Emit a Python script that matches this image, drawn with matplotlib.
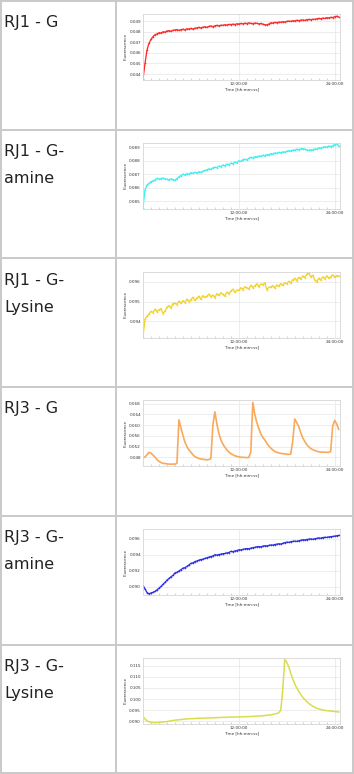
#!/usr/bin/env python3

import numpy as np
import matplotlib
matplotlib.use("Agg")
import matplotlib.pyplot as plt
from matplotlib.lines import Line2D

# sample spacing of the plate reader (hours)
STEP_H = 0.25

labels = [
    ["RJ1 - G"],
    ["RJ1 - G-", "amine"],
    ["RJ1 - G-", "Lysine"],
    ["RJ3 - G"],
    ["RJ3 - G-", "amine"],
    ["RJ3 - G-", "Lysine"],
]

colors = ["#ff2a2a", "#3ef0f0", "#f5d224", "#f9a95b", "#2f2fe6", "#d9dd4a"]
use_markers = [True, True, True, False, True, False]
line_widths = [0.95, 0.95, 0.95, 1.2, 0.95, 1.1]

rj1_g = [
    0.04353, 0.04500, 0.04628, 0.04691, 0.04729, 0.04755, 0.04773, 0.04781, 0.04792, 0.04790,
    0.04801, 0.04798, 0.04808, 0.04812, 0.04806, 0.04815, 0.04818, 0.04822, 0.04814, 0.04821,
    0.04826, 0.04819, 0.04830, 0.04827, 0.04833, 0.04826, 0.04835, 0.04838, 0.04843, 0.04837,
    0.04845, 0.04849, 0.04843, 0.04852, 0.04856, 0.04850, 0.04858, 0.04862, 0.04857, 0.04864,
    0.04862, 0.04868, 0.04865, 0.04871, 0.04869, 0.04874, 0.04870, 0.04877, 0.04875, 0.04880,
    0.04877, 0.04883, 0.04879, 0.04886, 0.04881, 0.04878, 0.04884, 0.04882, 0.04876, 0.04880,
    0.04873, 0.04869, 0.04866, 0.04874, 0.04887, 0.04884, 0.04890, 0.04888, 0.04893, 0.04891,
    0.04897, 0.04894, 0.04900, 0.04903, 0.04899, 0.04906, 0.04904, 0.04910, 0.04907, 0.04912,
    0.04913, 0.04909, 0.04916, 0.04919, 0.04915, 0.04921, 0.04918, 0.04924, 0.04928, 0.04925,
    0.04931, 0.04928, 0.04935, 0.04933, 0.04938, 0.04936, 0.04944, 0.04949, 0.04942,
]

rj1_g_amine = [
    0.08452, 0.08583, 0.08620, 0.08632, 0.08645, 0.08651, 0.08658, 0.08670, 0.08663, 0.08668,
    0.08672, 0.08665, 0.08663, 0.08658, 0.08666, 0.08660, 0.08655, 0.08668, 0.08681, 0.08690,
    0.08700, 0.08694, 0.08705, 0.08699, 0.08712, 0.08706, 0.08715, 0.08709, 0.08718, 0.08714,
    0.08722, 0.08728, 0.08732, 0.08740, 0.08736, 0.08748, 0.08752, 0.08749, 0.08760, 0.08757,
    0.08768, 0.08763, 0.08775, 0.08771, 0.08782, 0.08779, 0.08790, 0.08786, 0.08800, 0.08795,
    0.08808, 0.08812, 0.08806, 0.08818, 0.08825, 0.08821, 0.08830, 0.08828, 0.08835, 0.08832,
    0.08840, 0.08837, 0.08846, 0.08843, 0.08853, 0.08849, 0.08858, 0.08855, 0.08862, 0.08859,
    0.08866, 0.08863, 0.08870, 0.08875, 0.08872, 0.08880, 0.08877, 0.08885, 0.08882, 0.08888,
    0.08890, 0.08886, 0.08880, 0.08876, 0.08882, 0.08879, 0.08888, 0.08885, 0.08895, 0.08892,
    0.08899, 0.08903, 0.08900, 0.08908, 0.08905, 0.08912, 0.08920, 0.08926, 0.08910,
]

rj1_g_lysine = [
    0.09324, 0.09412, 0.09426, 0.09438, 0.09451, 0.09445, 0.09462, 0.09450, 0.09458, 0.09465,
    0.09440, 0.09452, 0.09471, 0.09480, 0.09468, 0.09490, 0.09493, 0.09485, 0.09502, 0.09492,
    0.09505, 0.09495, 0.09512, 0.09500, 0.09510, 0.09522, 0.09506, 0.09518, 0.09527, 0.09512,
    0.09530, 0.09521, 0.09527, 0.09538, 0.09524, 0.09533, 0.09520, 0.09540, 0.09531, 0.09545,
    0.09536, 0.09528, 0.09548, 0.09540, 0.09553, 0.09562, 0.09547, 0.09558, 0.09556, 0.09570,
    0.09560, 0.09575, 0.09570, 0.09563, 0.09582, 0.09571, 0.09578, 0.09590, 0.09575, 0.09588,
    0.09586, 0.09595, 0.09560, 0.09572, 0.09573, 0.09581, 0.09568, 0.09584, 0.09577, 0.09590,
    0.09582, 0.09595, 0.09590, 0.09602, 0.09593, 0.09610, 0.09617, 0.09605, 0.09622, 0.09614,
    0.09629, 0.09620, 0.09637, 0.09645, 0.09625, 0.09632, 0.09610, 0.09598, 0.09617, 0.09608,
    0.09625, 0.09615, 0.09630, 0.09618, 0.09624, 0.09635, 0.09622, 0.09631, 0.09629,
]

rj3_g = [
    0.0480, 0.0481, 0.0490, 0.0499, 0.0496, 0.0489, 0.0481, 0.0472, 0.0465, 0.0461,
    0.0458, 0.0457, 0.0456, 0.0455, 0.0455, 0.0455, 0.0455, 0.0458, 0.0620, 0.0590,
    0.0562, 0.0537, 0.0520, 0.0508, 0.0499, 0.0490, 0.0483, 0.0479, 0.0476, 0.0474,
    0.0473, 0.0472, 0.0471, 0.0472, 0.0475, 0.0600, 0.0650, 0.0605, 0.0570, 0.0545,
    0.0530, 0.0518, 0.0508, 0.0500, 0.0494, 0.0490, 0.0486, 0.0484, 0.0482, 0.0481,
    0.0480, 0.0480, 0.0479, 0.0480, 0.0500, 0.0685, 0.0640, 0.0610, 0.0588, 0.0568,
    0.0555, 0.0545, 0.0533, 0.0523, 0.0515, 0.0508, 0.0502, 0.0499, 0.0497, 0.0495,
    0.0494, 0.0493, 0.0492, 0.0491, 0.0492, 0.0540, 0.0623, 0.0610, 0.0595, 0.0572,
    0.0553, 0.0540, 0.0528, 0.0520, 0.0513, 0.0509, 0.0506, 0.0503, 0.0501, 0.0500,
    0.0500, 0.0499, 0.0499, 0.0499, 0.0502, 0.0595, 0.0618, 0.0605, 0.0585,
]

rj3_g_amine = [
    0.09010, 0.08970, 0.08925, 0.08910, 0.08920, 0.08928, 0.08940, 0.08958, 0.08980, 0.09002,
    0.09028, 0.09052, 0.09080, 0.09101, 0.09122, 0.09140, 0.09170, 0.09178, 0.09195, 0.09210,
    0.09230, 0.09236, 0.09252, 0.09270, 0.09290, 0.09296, 0.09312, 0.09320, 0.09330, 0.09338,
    0.09342, 0.09352, 0.09360, 0.09368, 0.09375, 0.09382, 0.09398, 0.09393, 0.09400, 0.09405,
    0.09410, 0.09414, 0.09420, 0.09425, 0.09440, 0.09436, 0.09445, 0.09450, 0.09460, 0.09457,
    0.09465, 0.09470, 0.09475, 0.09472, 0.09480, 0.09486, 0.09490, 0.09497, 0.09500, 0.09496,
    0.09505, 0.09510, 0.09508, 0.09514, 0.09520, 0.09518, 0.09525, 0.09530, 0.09535, 0.09532,
    0.09540, 0.09548, 0.09556, 0.09552, 0.09560, 0.09565, 0.09568, 0.09564, 0.09572, 0.09578,
    0.09585, 0.09582, 0.09588, 0.09592, 0.09596, 0.09590, 0.09598, 0.09602, 0.09608, 0.09605,
    0.09612, 0.09616, 0.09614, 0.09620, 0.09624, 0.09626, 0.09630, 0.09635, 0.09640,
]

rj3_g_lysine = [
    0.0920, 0.0911, 0.0902, 0.0898, 0.0896, 0.0895, 0.0894, 0.0894, 0.0896, 0.0897,
    0.0897, 0.0898, 0.0899, 0.0901, 0.0902, 0.0904, 0.0905, 0.0906, 0.0907, 0.0908,
    0.0909, 0.0910, 0.0911, 0.0911, 0.0912, 0.0912, 0.0913, 0.0913, 0.0914, 0.0914,
    0.0914, 0.0915, 0.0915, 0.0915, 0.0916, 0.0916, 0.0916, 0.0917, 0.0917, 0.0917,
    0.0918, 0.0918, 0.0918, 0.0919, 0.0919, 0.0919, 0.0919, 0.0920, 0.0920, 0.0920,
    0.0920, 0.0921, 0.0921, 0.0921, 0.0922, 0.0922, 0.0923, 0.0923, 0.0924, 0.0924,
    0.0925, 0.0926, 0.0927, 0.0928, 0.0929, 0.0931, 0.0933, 0.0935, 0.0938, 0.0950,
    0.1040, 0.1178, 0.1165, 0.1145, 0.1115, 0.1090, 0.1068, 0.1050, 0.1035, 0.1020,
    0.1008, 0.0998, 0.0989, 0.0981, 0.0974, 0.0968, 0.0963, 0.0959, 0.0956, 0.0953,
    0.0951, 0.0949, 0.0948, 0.0947, 0.0946, 0.0945, 0.0944, 0.0943, 0.0942,
]

series = [rj1_g, rj1_g_amine, rj1_g_lysine, rj3_g, rj3_g_amine, rj3_g_lysine]

y_limits = [
    (0.04343, 0.04970),
    (0.08444, 0.08933),
    (0.09319, 0.09651),
    (0.04465, 0.06924),
    (0.08892, 0.09717),
    (0.08880, 0.11840),
]
y_ticks = [
    [0.044, 0.045, 0.046, 0.047, 0.048, 0.049],
    [0.085, 0.086, 0.087, 0.088, 0.089],
    [0.094, 0.095, 0.096],
    [0.048, 0.052, 0.056, 0.060, 0.064, 0.068],
    [0.090, 0.092, 0.094, 0.096],
    [0.090, 0.095, 0.100, 0.105, 0.110, 0.115],
]
x_ticks = [12, 24]
x_ticklabels = ["12:00:00", "24:00:00"]


def main():
    W, H = 354, 774
    fig = plt.figure(figsize=(W / 100, H / 100), dpi=100)
    fig.patch.set_facecolor("white")

    row_h = 128.8
    grid_col = "#c9c9c9"

    # table borders
    for i in range(7):
        y = H - min(i * row_h + 0.8, H - 1.5)
        fig.add_artist(Line2D([0, 1], [y / H, y / H], transform=fig.transFigure,
                              color=grid_col, lw=1.4))
    for x in [0.8, 116, W - 1.2]:
        fig.add_artist(Line2D([x / W, x / W], [0, 1], transform=fig.transFigure,
                              color=grid_col, lw=1.4))

    ax_left, ax_right = 143, 340
    for i, vals in enumerate(series):
        top = i * row_h

        # row label in left column
        for k, line in enumerate(labels[i]):
            fig.text(4 / W, 1 - (top + 27 + k * 27) / H, line, fontsize=11.5,
                     family="DejaVu Sans", color="#222222", va="baseline", ha="left")

        ax = fig.add_axes([ax_left / W, 1 - (top + 80) / H,
                           (ax_right - ax_left) / W, 66 / H])
        hours = np.arange(len(vals)) * STEP_H
        kw = dict(color=colors[i], lw=line_widths[i])
        if use_markers[i]:
            kw.update(marker="+", markersize=1.6, markeredgewidth=0.4)
        ax.plot(hours, vals, **kw)

        ax.set_xlim(0, 24.67)
        ax.set_ylim(*y_limits[i])
        ax.set_yticks(y_ticks[i])
        ax.set_yticklabels([f"{v:.3f}" for v in y_ticks[i]])
        ax.set_xticks(x_ticks)
        ax.set_xticklabels(x_ticklabels)
        ax.set_xticks(np.arange(1, 25), minor=True)
        ax.tick_params(axis="both", which="major", length=0, pad=1.5,
                       labelsize=3, labelcolor="#333333")
        ax.tick_params(axis="x", which="minor", length=1.5, width=0.4,
                       direction="in", color="#b0b0b0")
        ax.grid(True, which="major", color="#e6e6e6", lw=0.5)
        ax.set_axisbelow(True)
        for sp in ax.spines.values():
            sp.set_color("#d6d6d6")
            sp.set_linewidth(0.6)
        ax.set_xlabel("Time [hh:mm:ss]", fontsize=3, labelpad=1, color="#333333")
        fig.text(126 / W, 1 - (top + 47) / H, "Fluorescence", rotation=90,
                 fontsize=3, color="#333333", ha="center", va="center")

    fig.savefig("out.png", dpi=100)


if __name__ == "__main__":
    main()
